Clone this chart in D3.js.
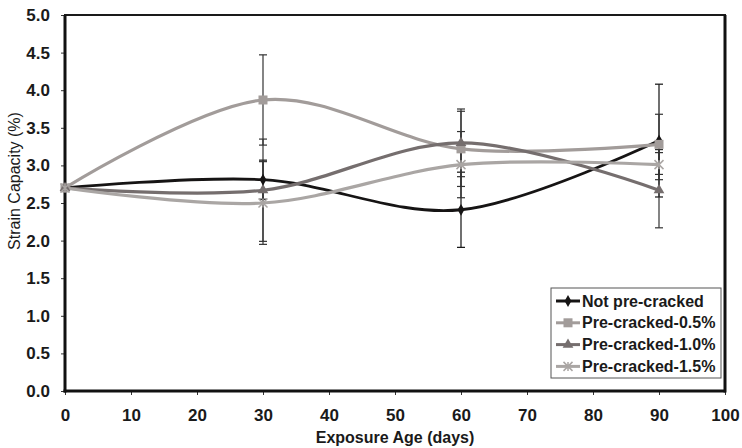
<!DOCTYPE html>
<html>
<head>
<meta charset="utf-8">
<script src="https://cdn.jsdelivr.net/npm/d3@7"></script>
<style>
  body { margin: 0; background: #fff; }
  svg { display: block; font-family: "Liberation Sans", Arial, sans-serif; }
</style>
</head>
<body>
<svg id="chart" width="742" height="448"></svg>
<script>
// ---- data ----
const days = [0, 30, 60, 90];
const seriesNames = ["Not pre-cracked", "Pre-cracked-0.5%", "Pre-cracked-1.0%", "Pre-cracked-1.5%"];
const notPreCracked = [2.70, 2.81, 2.41, 3.33];
const preCracked05 = [2.70, 3.87, 3.22, 3.28];
const preCracked10 = [2.70, 2.67, 3.30, 2.67];
const preCracked15 = [2.70, 2.50, 3.01, 3.01];
const notPreCrackedErr = [0, 0.26, 0.50, 0.75];
const preCracked05Err = [0, 0.60, 0.50, 0.40];
const preCracked10Err = [0, 0.68, 0.45, 0.50];
const preCracked15Err = [0, 0.55, 0.44, 0.20];
const xTickValues = [0, 10, 20, 30, 40, 50, 60, 70, 80, 90, 100];
const yTickValues = [0, 0.5, 1.0, 1.5, 2.0, 2.5, 3.0, 3.5, 4.0, 4.5, 5.0];

const seriesValues = [notPreCracked, preCracked05, preCracked10, preCracked15];
const seriesErrors = [notPreCrackedErr, preCracked05Err, preCracked10Err, preCracked15Err];

// ---- style ----
const colors = ["#161414", "#a29c9a", "#756e6e", "#aaa6a4"];
const markers = ["diamond", "square", "triangle", "star"];

const svg = d3.select("#chart");
const pLeft = 65, pRight = 725, pTop = 15, pBottom = 391;
const x = d3.scaleLinear().domain([0, 100]).range([pLeft, pRight]);
const y = d3.scaleLinear().domain([0, 5]).range([pBottom, pTop]);

// plot frame
svg.append("rect").attr("x", pLeft).attr("y", pTop).attr("width", pRight - pLeft).attr("height", pBottom - pTop)
  .attr("fill", "#fff").attr("stroke", "#1a1a1a").attr("stroke-width", 2);

// axes
const xAxis = d3.axisBottom(x).tickValues(xTickValues).tickFormat(d3.format("d")).tickSize(4).tickPadding(14);
const yAxis = d3.axisLeft(y).tickValues(yTickValues).tickFormat(d3.format(".1f")).tickSize(4).tickPadding(11);

const gx = svg.append("g").attr("transform", `translate(0,${pBottom})`).call(xAxis);
const gy = svg.append("g").attr("transform", `translate(${pLeft},0)`).call(yAxis);
[gx, gy].forEach(g => {
  g.select(".domain").remove();
  g.selectAll(".tick line").attr("stroke", "#333").attr("stroke-width", 1);
  g.selectAll(".tick text").attr("fill", "#1a1a1a").attr("font-size", 17).attr("font-weight", "bold")
    .attr("font-family", "'Liberation Sans', Arial, sans-serif");
});
// thick axis lines
svg.append("line").attr("x1", pLeft).attr("x2", pLeft).attr("y1", pTop).attr("y2", pBottom + 1.5)
  .attr("stroke", "#111").attr("stroke-width", 3);
svg.append("line").attr("x1", pLeft - 1.5).attr("x2", pRight).attr("y1", pBottom).attr("y2", pBottom)
  .attr("stroke", "#111").attr("stroke-width", 3);
svg.append("line").attr("x1", pRight).attr("x2", pRight).attr("y1", pTop).attr("y2", pBottom + 1.5)
  .attr("stroke", "#111").attr("stroke-width", 3);

// axis titles
svg.append("text").attr("x", (pLeft + pRight) / 2).attr("y", 443).attr("text-anchor", "middle")
  .attr("font-size", 16).attr("font-weight", "bold").attr("fill", "#1a1a1a").text("Exposure Age (days)");
svg.append("text").attr("transform", `translate(20,181) rotate(-90)`).attr("text-anchor", "middle")
  .attr("font-size", 16).attr("fill", "#1a1a1a").text("Strain Capacity (%)");

// curves
const line = d3.line().x(d => x(d[0])).y(d => y(d[1])).curve(d3.curveCardinal.tension(0));
seriesValues.forEach((vals, i) => {
  svg.append("path").datum(days.map((d, j) => [d, vals[j]]))
    .attr("d", line).attr("fill", "none").attr("stroke", colors[i]).attr("stroke-width", i === 0 ? 2.8 : 3.2);
});

// error bars
seriesValues.forEach((vals, i) => {
  const errs = seriesErrors[i];
  days.forEach((d, j) => {
    if (!errs[j]) return;
    const cx = x(d), y1 = y(vals[j] + errs[j]), y2 = y(vals[j] - errs[j]);
    const g = svg.append("g").attr("stroke", i === 0 ? "#111" : "#333").attr("stroke-width", 1.2);
    g.append("line").attr("x1", cx).attr("x2", cx).attr("y1", y1).attr("y2", y2);
    g.append("line").attr("x1", cx - 4).attr("x2", cx + 4).attr("y1", y1).attr("y2", y1);
    g.append("line").attr("x1", cx - 4).attr("x2", cx + 4).attr("y1", y2).attr("y2", y2);
  });
});

// markers
function drawMarker(g, type, cx, cy, color) {
  if (type === "diamond") {
    g.append("path").attr("d", d3.symbol(d3.symbolDiamond, 40)()).attr("transform", `translate(${cx},${cy})`)
      .attr("fill", color);
  } else if (type === "square") {
    g.append("rect").attr("x", cx - 4.5).attr("y", cy - 4.5).attr("width", 9).attr("height", 9).attr("fill", color);
  } else if (type === "triangle") {
    g.append("path").attr("d", d3.symbol(d3.symbolTriangle, 50)()).attr("transform", `translate(${cx},${cy})`)
      .attr("fill", color);
  } else {
    const s = 4.5;
    g.append("path").attr("d", `M${cx - s},${cy - s}L${cx + s},${cy + s}M${cx - s},${cy + s}L${cx + s},${cy - s}M${cx},${cy - s}L${cx},${cy + s}`)
      .attr("stroke", color).attr("stroke-width", 1.5).attr("fill", "none");
  }
}
seriesValues.forEach((vals, i) => {
  const g = svg.append("g");
  days.forEach((d, j) => drawMarker(g, markers[i], x(d), y(vals[j]), colors[i]));
});

// legend
const lg = svg.append("g");
lg.append("rect").attr("x", 551).attr("y", 288).attr("width", 170).attr("height", 90)
  .attr("fill", "#fff").attr("stroke", "#555").attr("stroke-width", 1);
seriesNames.forEach((name, i) => {
  const cy = 301 + i * 21.8;
  lg.append("line").attr("x1", 556).attr("x2", 580).attr("y1", cy).attr("y2", cy)
    .attr("stroke", colors[i]).attr("stroke-width", 3);
  drawMarker(lg, markers[i], 568, cy, colors[i]);
  lg.append("text").attr("x", 582).attr("y", cy + 5.5).attr("font-size", 16).attr("font-weight", "bold")
    .attr("fill", "#1a1a1a").text(name);
});
</script>
</body>
</html>
